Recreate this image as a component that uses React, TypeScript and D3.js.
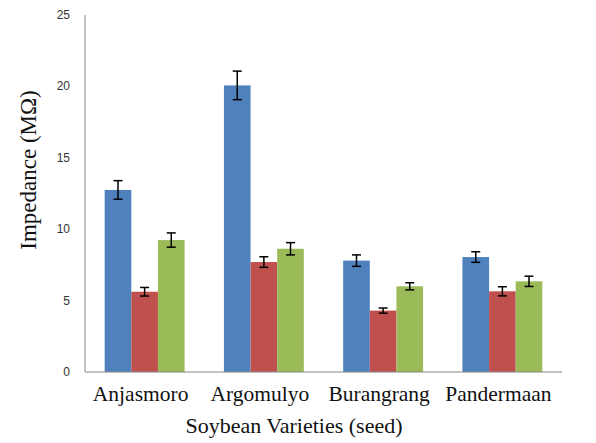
import React from "react";
import * as d3 from "d3";

const categories = ["Anjasmoro", "Argomulyo", "Burangrang", "Pandermaan"];
const series = ["S1", "S2", "S3"];
const seriesColors = ["#4F81BD", "#C0504D", "#9BBB59"];
const valuesS1 = [12.75, 20.07, 7.8, 8.05];
const valuesS2 = [5.62, 7.7, 4.3, 5.65];
const valuesS3 = [9.24, 8.63, 6.0, 6.35];
const errorsS1 = [0.65, 1.0, 0.4, 0.37];
const errorsS2 = [0.3, 0.37, 0.18, 0.32];
const errorsS3 = [0.5, 0.43, 0.25, 0.36];
const yTicks = [0, 5, 10, 15, 20, 25];

const W = 596;
const H = 443;
const left = 85;
const right = 562;
const top = 15;
const bottom = 372;

export default function App() {
  const values = [valuesS1, valuesS2, valuesS3];
  const errors = [errorsS1, errorsS2, errorsS3];
  const x = d3.scaleBand<string>().domain(categories).range([left, right]).paddingInner(0.33).paddingOuter(0.165);
  const xs = d3.scaleBand<string>().domain(series).range([0, x.bandwidth()]).padding(0);
  const y = d3.scaleLinear().domain([0, 25]).range([bottom, top]);
  const cap = 4.5;

  return (
    <svg width={W} height={H} style={{ position: "absolute", left: 0, top: 0, background: "#fff" }}>
      <rect x={0} y={0} width={W} height={H} fill="#fff" />
      {series.map((s, si) =>
        categories.map((c, ci) => {
          const v = values[si][ci];
          const e = errors[si][ci];
          const bx = (x(c) as number) + (xs(s) as number);
          const cx = bx + xs.bandwidth() / 2;
          return (
            <g key={s + c}>
              <rect x={bx} y={y(v)} width={xs.bandwidth()} height={y(0) - y(v)} fill={seriesColors[si]} />
              <line x1={cx} x2={cx} y1={y(v + e)} y2={y(v - e)} stroke="#000" strokeWidth={1.5} />
              <line x1={cx - cap} x2={cx + cap} y1={y(v + e)} y2={y(v + e)} stroke="#000" strokeWidth={1.5} />
              <line x1={cx - cap} x2={cx + cap} y1={y(v - e)} y2={y(v - e)} stroke="#000" strokeWidth={1.5} />
            </g>
          );
        })
      )}
      <line x1={left} x2={left} y1={top} y2={bottom} stroke="#868686" strokeWidth={1} />
      <line x1={left} x2={right} y1={bottom} y2={bottom} stroke="#868686" strokeWidth={1} />
      {yTicks.map((t) => (
        <text key={t} x={70} y={y(t) + 4} textAnchor="end" fontFamily="'Liberation Sans', Arial, sans-serif" fontSize={12} fill="#333">
          {t}
        </text>
      ))}
      {categories.map((c) => (
        <text key={c} x={(x(c) as number) + x.bandwidth() / 2 - 4} y={401} textAnchor="middle" fontFamily="'Liberation Serif', 'Times New Roman', serif" fontSize={21.5} fill="#111">
          {c}
        </text>
      ))}
      <text x={294} y={433} textAnchor="middle" fontFamily="'Liberation Serif', 'Times New Roman', serif" fontSize={22} fill="#111">
        Soybean Varieties (seed)
      </text>
      <text transform={`translate(36,170) rotate(-90)`} textAnchor="middle" fontFamily="'Liberation Serif', 'Times New Roman', serif" fontSize={23} fill="#111">
        Impedance (MΩ)
      </text>
    </svg>
  );
}
